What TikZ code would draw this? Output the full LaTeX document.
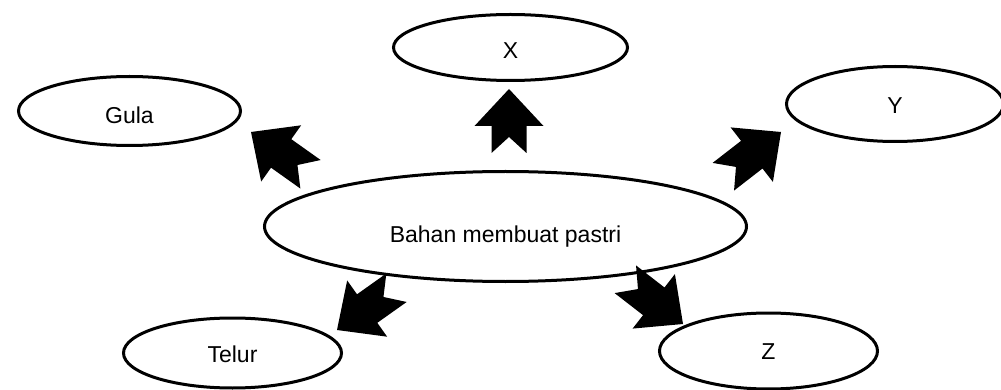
\documentclass[tikz,border=0pt]{standalone}
\usepackage{fontspec}
\setmainfont{Liberation Sans}
\usetikzlibrary{shapes.geometric}
\tikzset{
  oval/.style={ellipse, draw=black, line width=3pt, inner sep=0pt,
    text depth=0pt, font=\fontsize{23}{27}\selectfont},
  pics/notcharrow/.style={code={
    \fill[black] (0,0) -- (37,-34.5) -- (37,-17.5) -- (#1,-17.5) -- (#1-16,0)
      -- (#1,17.5) -- (37,17.5) -- (37,34.5) -- cycle;}}
}
\begin{document}
\begin{tikzpicture}[x=1pt,y=-1pt]
\useasboundingbox (0,0) rectangle (1001,390);
\node[oval, minimum width=482pt, minimum height=110pt, text height=32pt] (main) at (505.5,226.5) {Bahan membuat pastri};
\node[oval, minimum width=222pt, minimum height=69pt, text height=24.6pt] (gula) at (129.5,111) {Gula};
\node[oval, minimum width=234pt, minimum height=66pt, text height=22pt] (x) at (510.5,47.5) {X};
\node[oval, minimum width=217pt, minimum height=75pt, text height=18.6pt] (y) at (895,104) {Y};
\node[oval, minimum width=218pt, minimum height=70pt, text height=18pt] (telur) at (232.5,353) {Telur};
\node[oval, minimum width=218pt, minimum height=76pt, text height=17.6pt] (z) at (768.5,351) {Z};
% block arrows (tip position, rotation = direction from tip to tail)
\pic[rotate=-90] at (509,89) {notcharrow=64};
\pic[rotate=-35.4] at (251,132) {notcharrow=73};
\pic[rotate=217.8] at (781,132) {notcharrow=73};
\pic[rotate=35.4] at (337,330) {notcharrow=73};
\pic[rotate=142.2] at (683,324) {notcharrow=73};
\end{tikzpicture}
\end{document}
